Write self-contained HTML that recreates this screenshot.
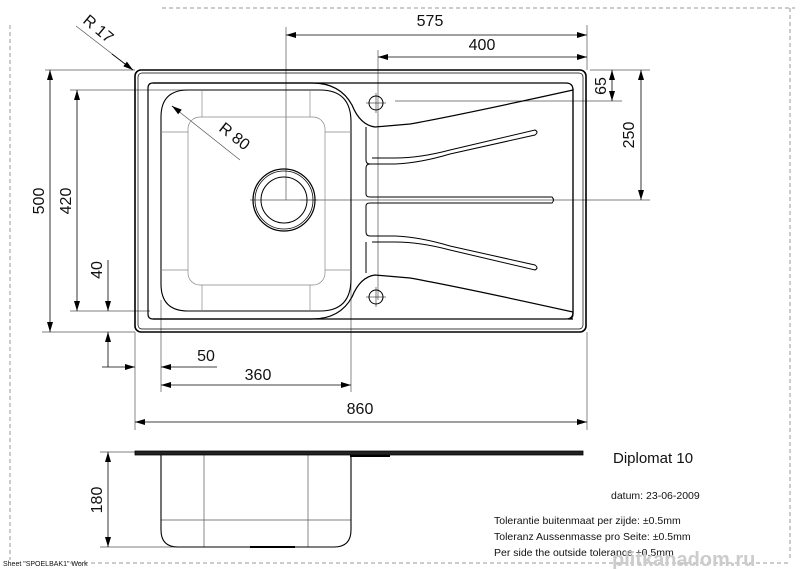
<!DOCTYPE html>
<html><head><meta charset="utf-8"><style>
html,body{margin:0;padding:0;background:#fff;}
svg{display:block;}
text{font-family:"Liberation Sans",sans-serif;fill:#111;}
</style></head><body>
<svg width="800" height="569" viewBox="0 0 800 569" xmlns="http://www.w3.org/2000/svg">
<defs>
<marker id="a" viewBox="0 0 10 6" refX="10" refY="3" markerWidth="10" markerHeight="6" orient="auto-start-reverse" markerUnits="userSpaceOnUse"><path d="M0,0L10,3L0,6z" fill="#000"/></marker>
</defs>
<g stroke="#999" stroke-width="1" stroke-dasharray="4,3" fill="none">
<line x1="10" y1="25" x2="10" y2="560"/>
<line x1="162" y1="8" x2="795" y2="8"/>
<line x1="790" y1="8" x2="790" y2="560"/>
<line x1="70" y1="563" x2="790" y2="563"/>
</g>
<g stroke="#555" stroke-width="0.7" fill="none">
<line x1="286" y1="27" x2="286" y2="200"/>
<line x1="378" y1="50" x2="378" y2="300"/>
<line x1="587" y1="25" x2="587" y2="70"/>
<line x1="45" y1="70" x2="135" y2="70"/>
<line x1="70" y1="90" x2="200" y2="90"/>
<line x1="70" y1="311" x2="150" y2="311"/>
<line x1="42" y1="332" x2="135" y2="332"/>
<line x1="135" y1="332" x2="135" y2="430"/>
<line x1="161" y1="300" x2="161" y2="392"/>
<line x1="351" y1="280" x2="351" y2="392"/>
<line x1="587" y1="332" x2="587" y2="430"/>
<line x1="590" y1="70" x2="650" y2="70"/>
<line x1="395" y1="101" x2="622" y2="101"/>
<line x1="300" y1="200" x2="650" y2="200"/>
<line x1="250" y1="200" x2="318" y2="200"/>
<line x1="100" y1="452" x2="140" y2="452"/>
<line x1="100" y1="547" x2="260" y2="547"/>
<line x1="204" y1="455" x2="204" y2="547"/>
<line x1="308" y1="455" x2="308" y2="547"/>
<line x1="161" y1="520" x2="351" y2="520"/>
<line x1="76" y1="26" x2="133" y2="70"/>
<line x1="172" y1="106" x2="240" y2="160"/>
</g>
<g stroke="#000" stroke-width="0.8" fill="none">
<line x1="286" y1="35" x2="587" y2="35" marker-start="url(#a)" marker-end="url(#a)"/>
<line x1="378" y1="57" x2="587" y2="57" marker-start="url(#a)" marker-end="url(#a)"/>
<line x1="50" y1="70" x2="50" y2="332" marker-start="url(#a)" marker-end="url(#a)"/>
<line x1="77" y1="90" x2="77" y2="311" marker-start="url(#a)" marker-end="url(#a)"/>
<line x1="108" y1="260" x2="108" y2="311" marker-end="url(#a)"/>
<line x1="108" y1="367" x2="108" y2="332" marker-end="url(#a)"/>
<line x1="102" y1="367" x2="135" y2="367" marker-end="url(#a)"/>
<line x1="217" y1="367" x2="161" y2="367" marker-end="url(#a)"/>
<line x1="161" y1="385" x2="351" y2="385" marker-start="url(#a)" marker-end="url(#a)"/>
<line x1="135" y1="422" x2="587" y2="422" marker-start="url(#a)" marker-end="url(#a)"/>
<line x1="612" y1="70" x2="612" y2="101" marker-start="url(#a)" marker-end="url(#a)"/>
<line x1="641" y1="70" x2="641" y2="200" marker-start="url(#a)" marker-end="url(#a)"/>
<line x1="108" y1="452" x2="108" y2="547" marker-start="url(#a)" marker-end="url(#a)"/>
<line x1="133" y1="70" x2="112" y2="54" marker-start="url(#a)"/>
<line x1="172" y1="106" x2="180" y2="112" marker-start="url(#a)"/>
</g>
<g stroke="#000" fill="none">
<rect x="135" y="70" width="451" height="262" rx="6" stroke-width="1.6"/>
<rect x="138" y="73" width="445" height="256" rx="4" stroke-width="0.7"/>
<path d="M153,83 L312,83 Q340,83 352,105 Q360,125 375,127 L410,124 Q460,115 573,90 L573,314 Q573,319 568,319 L573,319 M153,83 Q148,83 148,88 L148,314 Q148,319 153,319 L312,319 Q340,319 352,297 Q360,277 375,275 L410,278 Q460,287 573,312" stroke-width="1.2"/>
<path d="M573,88 L573,314" stroke-width="1.2"/>
<path d="M153,83 L566,83 Q573,83 573,90" stroke-width="1.2"/>
<path d="M153,319 L566,319 Q573,319 573,312" stroke-width="1.2"/>
<path d="M188,90 L320,90 Q351,90 351,122 L351,279 Q351,311 320,311 L188,311 Q161,311 161,284 L161,117 Q161,90 188,90Z" stroke-width="1.1"/>
<rect x="188" y="117" width="137" height="168" rx="12" stroke="#888" stroke-width="0.7"/>
<g stroke="#888" stroke-width="0.7"><line x1="202" y1="90" x2="202" y2="117"/><line x1="310" y1="90" x2="310" y2="117"/><line x1="202" y1="285" x2="202" y2="311"/><line x1="310" y1="285" x2="310" y2="311"/><line x1="161" y1="132" x2="188" y2="132"/><line x1="161" y1="270" x2="188" y2="270"/><line x1="325" y1="132" x2="351" y2="132"/><line x1="325" y1="270" x2="351" y2="270"/></g>
<circle cx="284" cy="200" r="31" stroke-width="1.2"/><circle cx="284" cy="200" r="29" stroke-width="0.8"/><circle cx="284" cy="200" r="23" stroke-width="1"/>
<path d="M366,127 L366,160 Q366,164 370,164 L395,164 Q420,163 450,154 L535,135 Q539,132 535,130 L450,150 Q420,158 395,158 L372,158" stroke-width="1"/>
<path d="M366,168 L366,194 Q366,197 370,197 L552,197 Q555,200 552,203 L370,203 Q366,203 366,206 L366,232 Q366,236 370,236" stroke-width="1"/>
<path d="M372,242 L395,242 Q420,242 450,250 L535,270 Q539,268 535,265 L450,246 Q420,237 395,236 L370,236" stroke-width="1"/>
<path d="M366,242 L366,273 M366,168 Q366,164 370,164" stroke-width="1"/>
<circle cx="376" cy="103" r="7" stroke-width="1"/><circle cx="376" cy="297" r="7" stroke-width="1"/>
<g stroke-width="0.5"><line x1="366" y1="103" x2="386" y2="103"/><line x1="376" y1="93" x2="376" y2="113"/><line x1="366" y1="297" x2="386" y2="297"/><line x1="376" y1="287" x2="376" y2="307"/></g>
</g>
<g stroke="#000" fill="none">
<path d="M135,451 L583,451 L583,455 L135,455Z" fill="#222" stroke-width="0.8"/>
<path d="M161,455 L161,530 Q161,547 178,547 L334,547 Q351,547 351,530 L351,455" stroke-width="1.1"/>
<line x1="250" y1="547" x2="295" y2="547" stroke-width="2"/>
<line x1="350" y1="456" x2="390" y2="456" stroke-width="2"/>
</g>
<g font-size="16">
<text x="430" y="26" text-anchor="middle">575</text>
<text x="482" y="50" text-anchor="middle">400</text>
<text x="258" y="380" text-anchor="middle">360</text>
<text x="206" y="361" text-anchor="middle">50</text>
<text x="360" y="414" text-anchor="middle">860</text>
<text transform="translate(44,201) rotate(-90)" text-anchor="middle">500</text>
<text transform="translate(71,201) rotate(-90)" text-anchor="middle">420</text>
<text transform="translate(102,270) rotate(-90)" text-anchor="middle">40</text>
<text transform="translate(606,86) rotate(-90)" text-anchor="middle">65</text>
<text transform="translate(634,135) rotate(-90)" text-anchor="middle">250</text>
<text transform="translate(102,500) rotate(-90)" text-anchor="middle">180</text>
<text transform="translate(218,130) rotate(38)">R 80</text>
<text transform="translate(82,22) rotate(40)">R 17</text>
</g>
<text x="613" y="463" font-size="15">Diplomat 10</text>
<text x="611" y="499" font-size="10.5">datum: 23-06-2009</text>
<text x="494" y="524" font-size="10.5">Tolerantie buitenmaat per zijde: ±0.5mm</text>
<text x="494" y="540" font-size="10.5">Toleranz Aussenmasse pro Seite: ±0.5mm</text>
<text x="494" y="556" font-size="10.5">Per side the outside tolerance ±0.5mm</text>
<text x="3" y="566" font-size="7">Sheet "SPOELBAK1" Work</text>
<text x="612" y="566" font-size="20" font-weight="bold" style="fill:#ccc">plitkanadom.ru</text>
</svg>
</body></html>
